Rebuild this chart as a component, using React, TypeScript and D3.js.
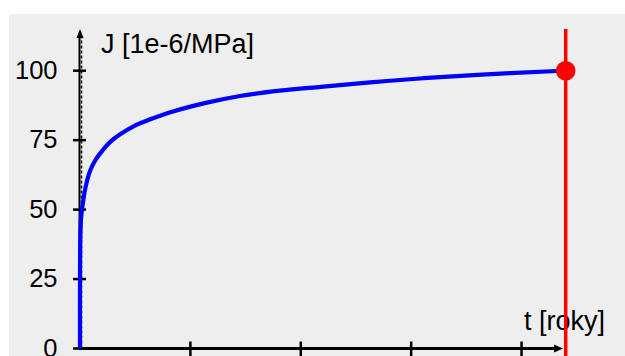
import React from "react";
import * as d3 from "d3";

const tValues = [0, 0.03, 0.1, 0.25, 0.5, 0.9, 1.36, 2.1, 2.72, 3.6, 5.1, 6.3, 8.5, 11.5, 14.5, 18.1, 21.8, 26.3, 30.8, 36.0, 43.2, 44];
const jValues = [0, 40, 47, 52, 58, 63.8, 67.6, 71.6, 74.3, 77.0, 80.5, 82.4, 85.4, 88.5, 90.9, 92.8, 94.2, 95.8, 97.2, 98.5, 99.9, 100];
const yTicks = [0, 25, 50, 75, 100];
const xTicks = [10, 20, 30, 40];
const tEnd = 44;
const jEnd = 100;
const yLabel = "J [1e-6/MPa]";
const xLabel = "t [roky]";

export default function App() {
  const W = 625, H = 356;
  const x = d3.scaleLinear().domain([0, 44]).range([80, 565.7]);
  const y = d3.scaleLinear().domain([0, 100]).range([348.5, 70.7]);
  const pts: [number, number][] = tValues.map((t, i) => [t, jValues[i]]);
  const line = d3.line<[number, number]>().x(d => x(d[0])).y(d => y(d[1])).curve(d3.curveCatmullRom.alpha(0.5));
  const x0 = x(0), y0 = y(0);
  const yTop = 29;
  const xRight = 563;
  const font = "'Liberation Sans', Arial, sans-serif";
  return (
    <svg width={W} height={H} style={{ position: "absolute", left: 0, top: 0, background: "#fff" }}>
      <rect x={9} y={14} width={W - 9} height={H - 14} fill="#eeeeee" />
      {/* y axis */}
      <line x1={x0 - 0.5} x2={x0 - 0.5} y1={y0} y2={yTop + 6} stroke="#000" strokeWidth={2} />
      <line x1={x0 + 1.5} x2={x0 + 1.5} y1={y0} y2={yTop + 6} stroke="#000" strokeWidth={1.5} strokeDasharray="3,2" />
      <path d={`M${x0 - 3.5},${yTop + 9} L${x0},${yTop} L${x0 + 3.5},${yTop + 9} Z`} fill="#000" />
      {yTicks.map(v => (
        <g key={v}>
          <line x1={x0 - 7} x2={x0 + 6} y1={y(v)} y2={y(v)} stroke="#000" strokeWidth={2.5} />
          <text x={57.5} y={y(v) + 8} textAnchor="end" fontFamily={font} fontSize={25.5} fill="#000">{v}</text>
        </g>
      ))}
      {/* x axis */}
      <line x1={x0 - 1} x2={xRight - 6} y1={y0} y2={y0} stroke="#000" strokeWidth={3} />
      <path d={`M${xRight - 9},${y0 - 4} L${xRight},${y0} L${xRight - 9},${y0 + 4} Z`} fill="#000" />
      {xTicks.map(v => (
        <line key={v} x1={x(v)} x2={x(v)} y1={y0 - 7} y2={y0 + 8} stroke="#000" strokeWidth={2.5} />
      ))}
      <text x={101} y={52.5} fontFamily={font} fontSize={27} fill="#000">{yLabel}</text>
      <text x={524} y={330} fontFamily={font} fontSize={27} fill="#000">{xLabel}</text>
      {/* curve */}
      <path d={line(pts) || ""} fill="none" stroke="#0000ff" strokeWidth={4.2} />
      {/* red marker */}
      <line x1={x(tEnd)} x2={x(tEnd)} y1={yTop} y2={H} stroke="#ff0000" strokeWidth={3.5} />
      <circle cx={x(tEnd)} cy={y(jEnd)} r={9.8} fill="#ff0000" />
    </svg>
  );
}
